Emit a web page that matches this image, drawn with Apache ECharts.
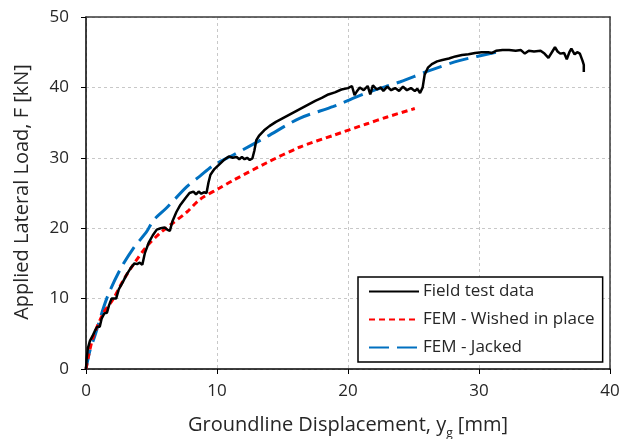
<!DOCTYPE html>
<html>
<head>
<meta charset="utf-8">
<script src="https://cdn.jsdelivr.net/npm/echarts@6/dist/echarts.min.js"></script>
<style>html,body{margin:0;padding:0;background:#fff}#c{width:622px;height:439px}</style>
</head>
<body>
<div id="c"></div>
<script>
const seriesNames = ['Field test data', 'FEM - Wished in place', 'FEM - Jacked'];
const xTicks = [0, 10, 20, 30, 40];
const yTicks = [0, 10, 20, 30, 40, 50];
const xTitle = 'Groundline Displacement, y';
const yTitle = 'Applied Lateral Load, F [kN]';

const fieldData = [[0,0],[0.05,1.5],[0.15,3.0],[0.3,4.0],[0.5,4.7],[0.7,5.5],[0.85,6.0],[1.05,6.0],[1.2,7.2],[1.4,7.9],[1.6,8.0],[1.75,9.0],[1.95,10.0],[2.3,10.0],[2.5,11.3],[2.8,12.3],[3.1,13.4],[3.4,14.3],[3.7,15.0],[3.9,14.9],[4.1,15.1],[4.3,14.8],[4.5,16.5],[4.8,18.0],[5.1,19.0],[5.4,19.8],[5.7,20.0],[6.0,20.1],[6.2,19.8],[6.4,19.6],[6.6,21.0],[6.9,22.3],[7.2,23.3],[7.6,24.3],[7.9,25.0],[8.2,25.2],[8.4,24.8],[8.6,25.2],[8.8,24.9],[9.0,25.1],[9.2,25.0],[9.35,26.5],[9.5,27.6],[9.8,28.4],[10.2,29.1],[10.6,29.8],[10.9,30.2],[11.2,30.0],[11.5,30.1],[11.7,29.8],[11.9,30.1],[12.1,29.8],[12.3,30.0],[12.5,29.7],[12.7,29.9],[12.85,31.0],[13.0,32.5],[13.2,33.1],[13.6,33.9],[14.0,34.5],[14.5,35.1],[15.0,35.6],[15.5,36.1],[16.0,36.6],[16.5,37.1],[17.0,37.6],[17.5,38.1],[18.0,38.5],[18.5,39.0],[19.0,39.3],[19.5,39.7],[20.0,39.9],[20.3,40.2],[20.5,38.9],[20.7,39.5],[20.9,40.0],[21.2,39.6],[21.5,40.2],[21.7,39.0],[21.9,40.3],[22.2,39.7],[22.5,40.0],[22.7,39.5],[23.0,40.1],[23.3,39.6],[23.6,39.9],[23.9,39.5],[24.2,40.1],[24.5,39.6],[24.8,39.9],[25.1,39.5],[25.3,39.8],[25.5,39.2],[25.7,40.0],[25.85,41.8],[26.1,42.8],[26.4,43.3],[26.8,43.7],[27.2,43.9],[27.7,44.1],[28.2,44.4],[28.7,44.6],[29.2,44.7],[29.7,44.9],[30.2,45.0],[30.7,45.0],[31.0,44.9],[31.3,45.2],[31.8,45.3],[32.3,45.3],[32.8,45.2],[33.2,45.3],[33.5,44.8],[33.8,45.2],[34.2,45.1],[34.7,45.2],[35.0,44.8],[35.3,44.2],[35.6,45.1],[35.8,45.7],[36.0,45.1],[36.2,44.8],[36.5,44.9],[36.7,44.0],[36.9,45.0],[37.05,45.5],[37.3,44.7],[37.5,45.0],[37.7,44.8],[37.9,43.8],[38.0,43.2],[38.0,42.2]];

const wishedData = [[0,0],[0.18,1.75],[0.56,4.6],[1.32,7.9],[2.1,10.0],[2.85,12.6],[3.6,14.8],[4.63,17.4],[5.65,19.3],[6.4,20.4],[7.7,22.3],[8.7,24.1],[10.2,25.7],[11.24,26.8],[13.8,29.3],[16.3,31.5],[18.9,33.2],[21.4,34.8],[23.0,35.8],[25.1,37.0]];

const jackedData = [[0,0],[0.3,2.6],[0.69,4.8],[1.58,10.0],[2.6,14.1],[3.6,17.1],[4.63,19.5],[5.14,21.1],[6.16,22.9],[7.7,25.9],[8.7,27.4],[9.7,28.9],[11.24,30.4],[13.8,33.0],[16.3,35.6],[18.9,37.3],[21.4,39.2],[24.0,40.8],[26.1,42.3],[28.5,43.8],[31.6,45.1]];

const font = '"Open Sans", "Noto Sans", sans-serif';
const txt = '#262626';
const chart = echarts.init(document.getElementById('c'), null, {renderer: 'canvas'});
const frameAxis = {type: 'value', axisLine: {show: true, onZero: false, lineStyle: {color: '#3a3a3a', width: 1.5}},
  axisTick: {show: false}, axisLabel: {show: false}, splitLine: {show: false}};
chart.setOption({
  animation: false,
  backgroundColor: '#fff',
  grid: {left: 86, right: 12, top: 17, bottom: 70, containLabel: false, outerBoundsMode: 'none'},
  xAxis: [{
    type: 'value', min: xTicks[0], max: xTicks[xTicks.length-1], interval: 10,
    axisLine: {show: true, onZero: false, lineStyle: {color: '#000', width: 1.5}},
    axisTick: {show: true, inside: false, length: 5, lineStyle: {color: '#000', width: 1}},
    axisLabel: {margin: 14, color: txt, fontSize: 17, fontFamily: font},
    splitLine: {show: true, lineStyle: {color: '#c8c8c8', type: [3, 3], width: 1}},
    name: '{a|' + xTitle + '}{s|g}{a| [mm]}', nameLocation: 'middle', nameGap: 46,
    nameTextStyle: {rich: {a: {fontSize: 20, fontFamily: font, color: txt}, s: {fontSize: 12, fontFamily: font, color: txt, verticalAlign: 'bottom', padding: [0,0,-5,0]}}}
  }, Object.assign({position: 'top', min: 0, max: 40}, frameAxis)],
  yAxis: [{
    type: 'value', min: yTicks[0], max: yTicks[yTicks.length-1], interval: 10,
    axisLine: {show: true, onZero: false, lineStyle: {color: '#000', width: 1.5}},
    axisTick: {show: true, inside: false, length: 5, lineStyle: {color: '#000', width: 1}},
    axisLabel: {margin: 17, color: txt, fontSize: 17, fontFamily: font},
    splitLine: {show: true, lineStyle: {color: '#c8c8c8', type: [3, 3], width: 1}}
  }, Object.assign({position: 'right', min: 0, max: 50}, frameAxis)],
  graphic: [{
    type: 'text', x: 22, y: 192, rotation: Math.PI / 2,
    style: {text: yTitle, fill: txt, font: '20px ' + font, textAlign: 'center', textVerticalAlign: 'middle'}
  }],
  legend: {
    orient: 'vertical', left: 358, top: 277,
    padding: [6, 8, 6, 10], borderColor: '#000', borderWidth: 1.5, backgroundColor: '#fff',
    itemWidth: 50, itemHeight: 14, itemGap: 11,
    itemStyle: {opacity: 0},
    textStyle: {fontSize: 17, lineHeight: 14, fontFamily: font, color: txt, padding: [0,0,0,-1]},
    data: seriesNames
  },
  series: [
    {name: seriesNames[2], type: 'line', data: jackedData, showSymbol: false, symbol: 'none', smooth: 0.3, z: 2,
     lineStyle: {color: '#0070c0', width: 3, type: [20, 8]}, itemStyle: {color: '#0070c0'}},
    {name: seriesNames[1], type: 'line', data: wishedData, showSymbol: false, symbol: 'none', smooth: 0.3, z: 3,
     lineStyle: {color: '#ff0000', width: 3, type: [6, 4]}, itemStyle: {color: '#ff0000'}},
    {name: seriesNames[0], type: 'line', data: fieldData, showSymbol: false, symbol: 'none', z: 4,
     lineStyle: {color: '#000', width: 2.5}, itemStyle: {color: '#000'}}
  ]
});
</script>
</body>
</html>
